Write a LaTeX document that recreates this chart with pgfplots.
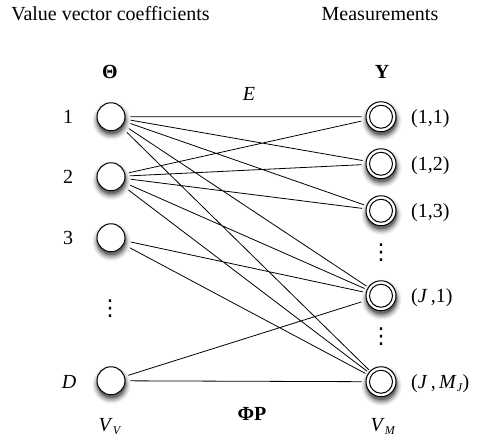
\documentclass[border=0pt]{standalone}
\usepackage{pgfplots}
\usepackage{pgfplotstable}
\pgfplotsset{compat=1.18}
\usepackage{fontspec}
\setmainfont{Liberation Serif}
\newfontfamily\dejavu{DejaVu Sans}
\begin{document}
\pgfplotstableread{
x y
111 113
111 173
111 234
111 377
}\leftnodes
\pgfplotstableread{
x y
381 113
381 160
381 207
381 292
381 378
}\rightnodes
\begin{tikzpicture}
\fontsize{20}{24}\selectfont
\begin{axis}[
  width=489pt, height=444pt, scale only axis,
  xmin=0, xmax=489, ymin=0, ymax=444, y dir=reverse,
  hide axis, clip=false,
  unbounded coords=jump,
]
% bounding box
\addplot[draw=none, forget plot] coordinates {(0,0) (489,444)};
% shadows (left nodes)
\addplot[only marks, mark=*, mark size=19pt, color=black!4] table[x expr=\thisrow{x}+0.5, y expr=\thisrow{y}+4] {\leftnodes};
\addplot[only marks, mark=*, mark size=18pt, color=black!9] table[x expr=\thisrow{x}+0.5, y expr=\thisrow{y}+4] {\leftnodes};
\addplot[only marks, mark=*, mark size=17pt, color=black!16] table[x expr=\thisrow{x}+0.5, y expr=\thisrow{y}+4] {\leftnodes};
\addplot[only marks, mark=*, mark size=16pt, color=black!26] table[x expr=\thisrow{x}+0.5, y expr=\thisrow{y}+4] {\leftnodes};
\addplot[only marks, mark=*, mark size=15pt, color=black!40] table[x expr=\thisrow{x}+0.5, y expr=\thisrow{y}+3.5] {\leftnodes};
\addplot[only marks, mark=*, mark size=14pt, color=black!58] table[x expr=\thisrow{x}+0.5, y expr=\thisrow{y}+3] {\leftnodes};
% shadows (right nodes)
\addplot[only marks, mark=*, mark size=20pt, color=black!4] table[x expr=\thisrow{x}+0.5, y expr=\thisrow{y}+4] {\rightnodes};
\addplot[only marks, mark=*, mark size=19pt, color=black!9] table[x expr=\thisrow{x}+0.5, y expr=\thisrow{y}+4] {\rightnodes};
\addplot[only marks, mark=*, mark size=18pt, color=black!16] table[x expr=\thisrow{x}+0.5, y expr=\thisrow{y}+4] {\rightnodes};
\addplot[only marks, mark=*, mark size=17pt, color=black!26] table[x expr=\thisrow{x}+0.5, y expr=\thisrow{y}+4] {\rightnodes};
\addplot[only marks, mark=*, mark size=16pt, color=black!40] table[x expr=\thisrow{x}+0.5, y expr=\thisrow{y}+3.5] {\rightnodes};
\addplot[only marks, mark=*, mark size=15pt, color=black!58] table[x expr=\thisrow{x}+0.5, y expr=\thisrow{y}+3] {\rightnodes};
% edges
\addplot[black, line width=0.8pt] coordinates {
(111,113) (381,113) (nan,nan)
(111,113) (381,160) (nan,nan)
(111,113) (381,207) (nan,nan)
(111,113) (381,292) (nan,nan)
(111,113) (381,378) (nan,nan)
(111,173) (381,113) (nan,nan)
(111,173) (381,160) (nan,nan)
(111,173) (381,207) (nan,nan)
(111,173) (381,292) (nan,nan)
(111,173) (381,378) (nan,nan)
(111,234) (381,292) (nan,nan)
(111,234) (381,378) (nan,nan)
(111,377) (381,292) (nan,nan)
(111,377) (381,378)
};
% nodes
\addplot[only marks, mark=*, mark size=14pt, mark options={draw=black, fill=white, line width=1pt}] table {\leftnodes};
\addplot[only marks, mark=*, mark size=15pt, mark options={draw=black, fill=white, line width=1pt}] table {\rightnodes};
\addplot[only marks, mark=o, mark size=11.5pt, mark options={draw=black, line width=1pt}] table {\rightnodes};
% texts
\node[anchor=base] at (axis cs:110.5,17) {Value vector coefficients};
\node[anchor=base] at (axis cs:380,17) {Measurements};
\node[anchor=base] at (axis cs:110,75) {\textbf{Θ}};
\node[anchor=base] at (axis cs:382,75) {\textbf{Y}};
\node[anchor=base] at (axis cs:249,97) {\textit{E}};
\node[anchor=base] at (axis cs:68,120) {1};
\node[anchor=base] at (axis cs:68,180) {2};
\node[anchor=base] at (axis cs:68,241) {3};
\node[anchor=base] at (axis cs:69,385) {\textit{D}};
\node[anchor=base west, inner sep=0pt] at (axis cs:411,120) {(1,1)};
\node[anchor=base west, inner sep=0pt] at (axis cs:411,167) {(1,2)};
\node[anchor=base west, inner sep=0pt] at (axis cs:411,214) {(1,3)};
\node[anchor=base west, inner sep=0pt] at (axis cs:411,299) {(\textit{J}\,,1)};
\node[anchor=base west, inner sep=0pt] at (axis cs:411,385) {(\textit{J}\,,\,\textit{M}\raisebox{-0.35ex}{\fontsize{12}{14}\selectfont\textit{J}})};
\node[inner sep=0pt] at (axis cs:110,305) {\dejavu\fontsize{22}{24}\selectfont ⋮};
\node[inner sep=0pt] at (axis cs:381,249) {\dejavu\fontsize{22}{24}\selectfont ⋮};
\node[inner sep=0pt] at (axis cs:381,333) {\dejavu\fontsize{22}{24}\selectfont ⋮};
\node[anchor=base] at (axis cs:252,417) {\textbf{ΦP}};
\node[anchor=base] at (axis cs:110,428) {\textit{V}\raisebox{-0.35ex}{\fontsize{12}{14}\selectfont\textit{V}}};
\node[anchor=base] at (axis cs:383,428) {\textit{V}\raisebox{-0.35ex}{\fontsize{12}{14}\selectfont\textit{M}}};
\end{axis}
\end{tikzpicture}
\end{document}
